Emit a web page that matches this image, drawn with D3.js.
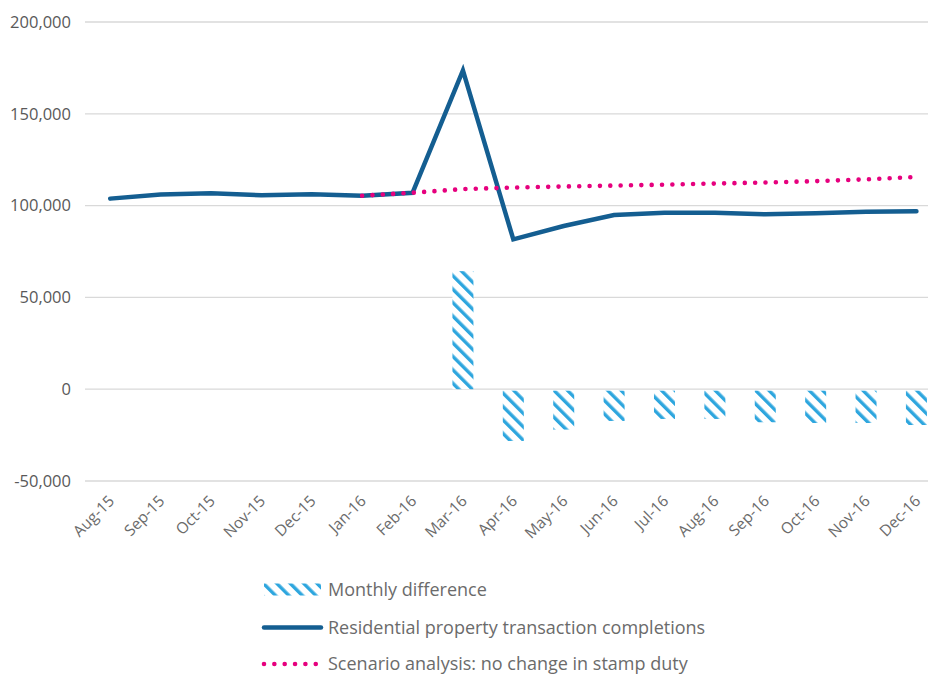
<!DOCTYPE html>
<html><head><meta charset="utf-8">
<script src="https://cdn.jsdelivr.net/npm/d3@7"></script>
<style>
body{margin:0;background:#fff;}
svg{display:block;font-family:"Open Sans",sans-serif;}
</style></head>
<body><svg id="chart" width="928" height="675"></svg>
<script>
const months = ["Aug-15","Sep-15","Oct-15","Nov-15","Dec-15","Jan-16","Feb-16","Mar-16","Apr-16","May-16","Jun-16","Jul-16","Aug-16","Sep-16","Oct-16","Nov-16","Dec-16"];
const completions = [103800,106000,106700,105600,106200,105400,107000,173600,81600,88900,94900,96100,96100,95300,95800,96700,96900];
const scenarioMonths = ["Jan-16","Feb-16","Mar-16","Apr-16","May-16","Jun-16","Jul-16","Aug-16","Sep-16","Oct-16","Nov-16","Dec-16"];
const scenario = [105400,107000,109000,109800,110400,110900,111400,112000,112600,113300,114300,115600];
const diffMonths = ["Mar-16","Apr-16","May-16","Jun-16","Jul-16","Aug-16","Sep-16","Oct-16","Nov-16","Dec-16"];
const monthlyDiff = [64300,-28200,-22000,-17300,-16200,-16200,-18000,-18400,-18400,-19500];
const yTicks = [-50000,0,50000,100000,150000,200000];
const legendLabels = ["Monthly difference","Residential property transaction completions","Scenario analysis: no change in stamp duty"];

const svg = d3.select("#chart");
const defs = svg.append("defs");
const pat = defs.append("pattern").attr("id","stripes").attr("patternUnits","userSpaceOnUse")
  .attr("width",9.5).attr("height",9.5).attr("patternTransform","rotate(-45)");
pat.append("rect").attr("width",9.5).attr("height",9.5).attr("fill","#ffffff");
pat.append("rect").attr("width",3.4).attr("height",9.5).attr("fill","#2ea6de");

const x = d3.scaleBand().domain(months).range([85, 85 + 17*50.39]).padding(0);
const cx = d => x(d) + x.bandwidth()/2;
const y = d3.scaleLinear().domain([-50000,200000]).range([481,22]);
const fmt = d => d3.format(",")(d).replace("\u2212","-");

// gridlines
svg.append("g").selectAll("line").data(yTicks).join("line")
  .attr("x1",85).attr("x2",928).attr("y1",d=>y(d)).attr("y2",d=>y(d))
  .attr("stroke","#d9d9d9").attr("stroke-width",1.3);

// y labels
svg.append("g").selectAll("text").data(yTicks).join("text")
  .attr("x",71).attr("y",d=>y(d)).attr("dy","0.35em").attr("text-anchor","end")
  .attr("fill","#595959").attr("font-size",16.5)
  .text(fmt);

// x labels
svg.append("g").selectAll("text").data(months).join("text")
  .attr("transform",d=>`translate(${cx(d)+5},${502}) rotate(-45)`)
  .attr("text-anchor","end").attr("fill","#6b6b6b").attr("font-size",15.5)
  .text(d=>d);

// bars
const bw = 21;
svg.append("g").selectAll("rect").data(diffMonths.map((m,i)=>({m,v:monthlyDiff[i]}))).join("rect")
  .attr("x",d=>cx(d.m)-bw/2).attr("width",bw)
  .attr("y",d=>d.v>=0?y(d.v):y(0)+1.5)
  .attr("height",d=>Math.abs(y(d.v)-y(0)) - (d.v>=0?0:1.5))
  .attr("fill","url(#stripes)");

// completions line
const line = d3.line().x(d=>cx(d.m)).y(d=>y(d.v));
svg.append("path").datum(months.map((m,i)=>({m,v:completions[i]})))
  .attr("d",line).attr("fill","none").attr("stroke","#145e91").attr("stroke-width",4.5)
  .attr("stroke-linecap","round").attr("stroke-linejoin","miter");

// scenario dotted
svg.append("path").datum(scenarioMonths.map((m,i)=>({m,v:scenario[i]})))
  .attr("d",line).attr("fill","none").attr("stroke","#e6007e").attr("stroke-width",4.6)
  .attr("stroke-linecap","round").attr("stroke-dasharray","0 10.35");

// legend
const lg = svg.append("g");
const lx0 = 264, lx1 = 321, tx = 328;
const ly = [590, 627.5, 664];
lg.append("rect").attr("x",lx0).attr("y",ly[0]-6.5).attr("width",lx1-lx0).attr("height",12).attr("fill","url(#stripes)");
lg.append("line").attr("x1",lx0).attr("x2",lx1).attr("y1",ly[1]).attr("y2",ly[1])
  .attr("stroke","#145e91").attr("stroke-width",4.5).attr("stroke-linecap","round");
lg.append("line").attr("x1",lx0).attr("x2",lx1).attr("y1",ly[2]).attr("y2",ly[2])
  .attr("stroke","#e6007e").attr("stroke-width",4.6).attr("stroke-linecap","round").attr("stroke-dasharray","0 10.35");
lg.selectAll("text").data(legendLabels).join("text")
  .attr("x",tx).attr("y",(d,i)=>ly[i]).attr("dy","0.35em")
  .attr("fill","#6b6b6b").attr("font-size",18).text(d=>d);
</script></body></html>
